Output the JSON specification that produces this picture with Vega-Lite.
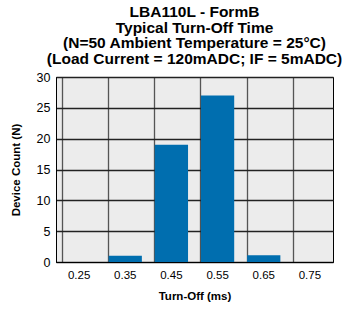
{
  "$schema": "https://vega.github.io/schema/vega-lite/v6.json",
  "autosize": "none",
  "width": 277,
  "height": 185,
  "padding": {"left": 56, "top": 77, "right": 12, "bottom": 48},
  "background": "white",
  "title": {
    "text": ["LBA110L - FormB", "Typical Turn-Off Time", "(N=50 Ambient Temperature = 25°C)", "(Load Current = 120mADC; IF = 5mADC)"],
    "font": "Liberation Sans",
    "fontSize": 15.5,
    "fontWeight": "bold",
    "lineHeight": 15.5,
    "color": "black",
    "anchor": "middle",
    "offset": 4
  },
  "data": {
    "values": [
      {"turnoff": "0.25", "count": 0},
      {"turnoff": "0.35", "count": 1},
      {"turnoff": "0.45", "count": 19},
      {"turnoff": "0.55", "count": 27},
      {"turnoff": "0.65", "count": 1.1},
      {"turnoff": "0.75", "count": 0}
    ]
  },
  "config": {
    "view": {"fill": "#ececec", "stroke": "black", "strokeWidth": 1},
    "axis": {
      "labelFont": "Liberation Sans",
      "titleFont": "Liberation Sans",
      "labelColor": "black",
      "titleColor": "black",
      "domainColor": "black",
      "gridColor": "#222222",
      "gridOpacity": 1,
      "gridWidth": 1.3,
      "ticks": false
    }
  },
  "mark": {"type": "bar", "color": "#006eaf"},
  "encoding": {
    "x": {
      "field": "turnoff",
      "type": "ordinal",
      "sort": null,
      "scale": {"paddingInner": 0.28, "paddingOuter": 0.14},
      "axis": {
        "title": "Turn-Off (ms)",
        "titleFontSize": 11.5,
        "titleFontWeight": "bold",
        "titlePadding": 10,
        "labelFontSize": 11.5,
        "labelAngle": 0,
        "labelPadding": 7,
        "grid": true,
        "bandPosition": 0,
        "gridColor": "#555555"
      }
    },
    "y": {
      "field": "count",
      "type": "quantitative",
      "scale": {"domain": [0, 30], "nice": false},
      "axis": {
        "title": "Device Count (N)",
        "titleFontSize": 11.5,
        "titleFontWeight": "bold",
        "titlePadding": 15,
        "labelFontSize": 12.5,
        "labelPadding": 6,
        "values": [0, 5, 10, 15, 20, 25, 30],
        "grid": true
      }
    }
  }
}
